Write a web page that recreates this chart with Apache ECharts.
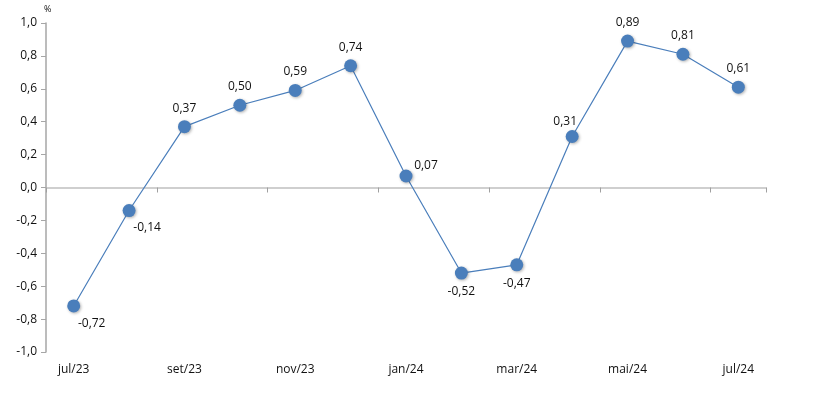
<!DOCTYPE html>
<html><head><meta charset="utf-8">
<script src="https://cdn.jsdelivr.net/npm/echarts@6/dist/echarts.min.js"></script>
<style>html,body{margin:0;padding:0;background:#fff}#c{width:815px;height:395px}</style>
</head><body><div id="c"></div>
<script>
const categories = ['jul/23','ago/23','set/23','out/23','nov/23','dez/23','jan/24','fev/24','mar/24','abr/24','mai/24','jun/24','jul/24'];
const values = [-0.72,-0.14,0.37,0.50,0.59,0.74,0.07,-0.52,-0.47,0.31,0.89,0.81,0.61];
const labelPos = ['br','br','top','top','top','top','tr','bottom','bottom','tl','top','top','top'];
const yTicks = {min:-1, max:1, interval:0.2};

const fmt = v => v.toFixed(2).replace('.', ',');
const posMap = {
  top: {position:'top', distance:6},
  bottom: {position:'bottom', distance:6},
  br: {position:'bottom', offset:[18,0], distance:5},
  tr: {position:'top', offset:[20,6], distance:4},
  tl: {position:'top', offset:[-7,2], distance:4}
};
const data = values.map((v,i)=>({value:v, label:Object.assign({show:true}, posMap[labelPos[i]])}));
const font = "'Open Sans', 'Liberation Sans', sans-serif";
const chart = echarts.init(document.getElementById('c'), null, {renderer:'canvas'});
chart.setOption({
  animation:false,
  grid:{left:46, right:49, top:23, bottom:43},
  xAxis:[{
    type:'category', data:categories, boundaryGap:true,
    axisLine:{onZero:true, lineStyle:{color:'#c0c0c0', width:1.5}},
    axisTick:{show:true, interval:1, length:5, lineStyle:{color:'#a0a0a0'}},
    axisLabel:{show:false}
  },{
    type:'category', data:categories, position:'bottom', boundaryGap:true,
    axisLine:{show:false, onZero:false}, axisTick:{show:false},
    axisLabel:{interval:1, color:'#111', fontSize:12, fontFamily:font, margin:12}
  }],
  yAxis:{
    type:'value', min:yTicks.min, max:yTicks.max, interval:yTicks.interval,
    splitLine:{show:false},
    axisLine:{show:true, lineStyle:{color:'#a6a6a6', width:1.5}},
    axisTick:{show:true, length:5, lineStyle:{color:'#a6a6a6'}},
    axisLabel:{color:'#111', fontSize:12, fontFamily:font, margin:9, formatter:v=>v.toFixed(1).replace('.',',')}
  },
  graphic:[{type:'text', left:44, top:5, style:{text:'%', fontSize:9, fill:'#111', fontFamily:font}}],
  series:[{
    type:'line', xAxisIndex:0, data:data,
    symbol:'circle', symbolSize:13,
    lineStyle:{color:'#4a7ebb', width:1.2},
    itemStyle:{color:'#4a7ebb', shadowColor:'rgba(0,0,0,0.3)', shadowBlur:3, shadowOffsetX:1, shadowOffsetY:1},
    label:{color:'#111', fontSize:12, fontFamily:font, formatter:p=>fmt(p.value)},
    emphasis:{disabled:true}
  }]
});
</script></body></html>
